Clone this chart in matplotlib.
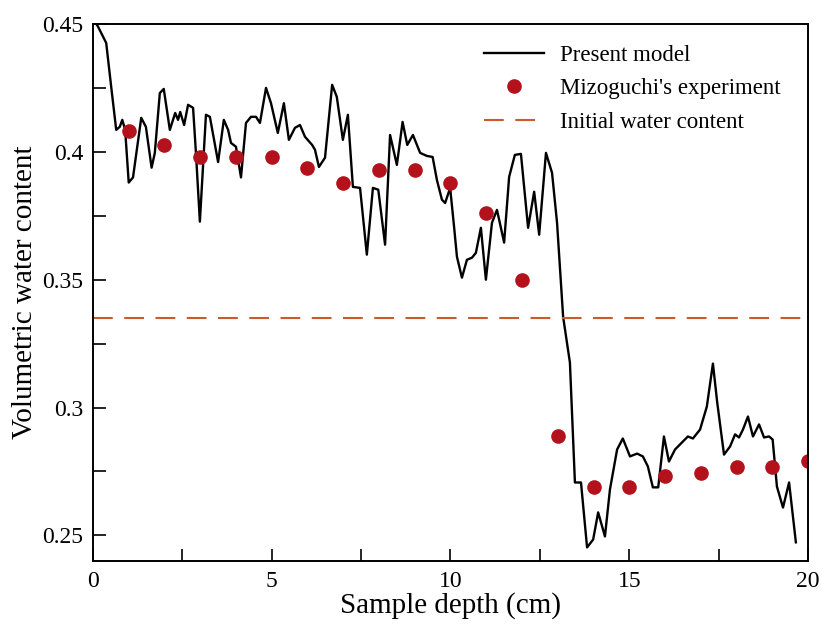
import matplotlib
matplotlib.use("Agg")
import matplotlib.pyplot as plt
from matplotlib.ticker import MultipleLocator, FormatStrFormatter

# Present model
model_x = [0.05, 0.14, 0.37, 0.51, 0.65, 0.75, 0.82, 0.90, 1.00, 1.12, 1.35, 1.48,
           1.64, 1.73, 1.87, 1.98, 2.15, 2.30, 2.38, 2.44, 2.55, 2.66, 2.80, 2.88,
           2.99, 3.16, 3.27, 3.50, 3.66, 3.78, 3.86, 4.00, 4.14, 4.28, 4.42, 4.56,
           4.67, 4.84, 4.98, 5.17, 5.34, 5.48, 5.65, 5.79, 5.93, 6.13, 6.21, 6.32,
           6.49, 6.69, 6.82, 6.99, 7.13, 7.27, 7.47, 7.66, 7.83, 7.98, 8.17, 8.31,
           8.39, 8.50, 8.66, 8.79, 8.95, 9.15, 9.34, 9.50, 9.62, 9.76, 9.85, 9.99,
           10.10, 10.18, 10.32, 10.46, 10.60, 10.71, 10.85, 10.99, 11.16, 11.30,
           11.50, 11.64, 11.80, 11.97, 12.17, 12.34, 12.48, 12.67, 12.84, 12.98,
           13.15, 13.34, 13.48, 13.65, 13.82, 13.99, 14.13, 14.32, 14.46, 14.66,
           14.82, 15.02, 15.22, 15.38, 15.52, 15.66, 15.81, 15.97, 16.11, 16.28,
           16.47, 16.64, 16.78, 16.98, 17.17, 17.34, 17.46, 17.65, 17.82, 17.96,
           18.07, 18.18, 18.32, 18.46, 18.63, 18.77, 18.91, 19.01, 19.13, 19.30,
           19.47, 19.66]
model_y = [0.451, 0.449, 0.4426, 0.4254, 0.4086, 0.4098, 0.4125, 0.4086, 0.388, 0.390,
           0.4133, 0.4098, 0.3938, 0.3996, 0.423, 0.4246, 0.4086, 0.4152, 0.4125,
           0.4156, 0.4105, 0.4184, 0.4172, 0.3996, 0.3727, 0.4145, 0.4137, 0.396,
           0.4125, 0.4086, 0.4035, 0.402, 0.390, 0.4113, 0.4137, 0.4137, 0.4113,
           0.425, 0.419, 0.4074, 0.419, 0.4047, 0.4094, 0.4105, 0.4059, 0.4027,
           0.4008, 0.3941, 0.3977, 0.4262, 0.4215, 0.4047, 0.4145, 0.3863, 0.3859,
           0.3598, 0.3859, 0.3852, 0.3637, 0.4066, 0.4016, 0.3949, 0.4117, 0.4027,
           0.4066, 0.3996, 0.3984, 0.398, 0.389, 0.3813, 0.380, 0.3859, 0.3707,
           0.359, 0.3508, 0.3578, 0.3586, 0.3605, 0.3703, 0.350, 0.3723, 0.3773,
           0.3645, 0.3902, 0.3988, 0.3992, 0.3703, 0.3844, 0.3676, 0.3996, 0.3918,
           0.3723, 0.3355, 0.3176, 0.2707, 0.2707, 0.2453, 0.2484, 0.259, 0.2496,
           0.268, 0.2836, 0.2879, 0.2809, 0.282, 0.2809, 0.277, 0.2688, 0.2688,
           0.2887, 0.2789, 0.2836, 0.2863, 0.2887, 0.2879, 0.2914, 0.3004, 0.3172,
           0.302, 0.2816, 0.2848, 0.2895, 0.2883, 0.2914, 0.2965, 0.2887, 0.2934,
           0.2883, 0.2887, 0.2875, 0.2691, 0.2609, 0.2707, 0.2473]

# Mizoguchi's experiment
exp_x = [1, 2, 3, 4, 5, 6, 7, 8, 9, 10, 11, 12, 13, 14, 15, 16, 17, 18, 19, 20]
exp_y = [0.408, 0.4027, 0.398, 0.398, 0.398, 0.3938, 0.388, 0.393, 0.393, 0.388,
         0.376, 0.350, 0.289, 0.269, 0.269, 0.2734, 0.2746, 0.2766, 0.2766, 0.279]

initial_wc = 0.335

plt.rcParams['font.family'] = ['Liberation Serif', 'DejaVu Serif']

fig = plt.figure(figsize=(8.22, 6.28), dpi=100)
ax = fig.add_axes([0.1131, 0.1067, 0.8699, 0.8551])

ax.plot(model_x, model_y, color='black', lw=1.7, label='Present model')
ax.plot(exp_x, exp_y, 'o', color='#b3121c', ms=9.5, mec='#b3121c',
        label="Mizoguchi's experiment")
ax.axhline(initial_wc, color='#cc5a2e', lw=1.5, dashes=(9.5, 5.5),
           label='Initial water content')

ax.set_xlim(0, 20)
ax.set_ylim(0.24, 0.45)
ax.xaxis.set_major_locator(MultipleLocator(5))
ax.xaxis.set_minor_locator(MultipleLocator(2.5))
ax.yaxis.set_major_locator(MultipleLocator(0.05))
ax.yaxis.set_minor_locator(MultipleLocator(0.025))
ax.yaxis.set_major_formatter(FormatStrFormatter('%g'))
ax.tick_params(which='both', direction='in', top=False, right=False,
               labelsize=17, width=1.2)
ax.tick_params(which='major', length=9, pad=7)
ax.tick_params(which='minor', length=9)
for s in ax.spines.values():
    s.set_linewidth(1.4)

ax.set_xlabel('Sample depth (cm)', fontsize=21, labelpad=0)
ax.set_ylabel('Volumetric water content', fontsize=21, labelpad=3)

ax.legend(loc='upper right', frameon=False, fontsize=16.5, handlelength=2.6,
          handletextpad=0.7, labelspacing=0.55, bbox_to_anchor=(0.99, 1.0))

fig.savefig('out.png', dpi=100)
